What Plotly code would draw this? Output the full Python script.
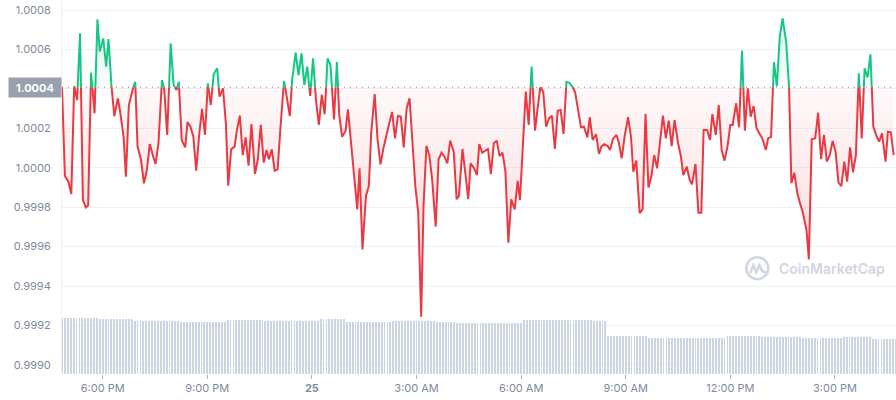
import pandas as pd
import plotly.graph_objects as go

start = pd.Timestamp("2023-06-24 16:50")

# price samples: minutes after start, USD price
minutes = [
    0, 5, 11, 16, 21, 26, 31, 36, 41, 45, 50, 56, 61, 65, 71, 76, 80, 85, 90, 96,
    100, 106, 110, 115, 121, 126, 130, 136, 141, 146, 151, 157, 161, 166, 172, 176, 181, 187, 192, 197,
    201, 206, 212, 216, 221, 226, 231, 236, 241, 246, 251, 256, 261, 267, 271, 277, 282, 286, 291, 297,
    301, 306, 311, 316, 321, 326, 332, 337, 342, 347, 352, 356, 361, 366, 371, 376, 382, 387, 392, 396,
    402, 407, 412, 417, 422, 427, 432, 437, 442, 447, 452, 457, 462, 468, 473, 477, 482, 488, 492, 497,
    503, 508, 512, 517, 523, 528, 532, 538, 543, 548, 553, 558, 563, 568, 573, 578, 583, 588, 593, 598,
    603, 608, 613, 618, 622, 627, 632, 637, 643, 648, 653, 658, 663, 668, 674, 679, 683, 689, 694, 699,
    703, 709, 714, 718, 723, 728, 733, 738, 743, 748, 753, 758, 763, 768, 773, 779, 784, 788, 793, 798,
    803, 808, 814, 818, 823, 828, 833, 838, 843, 848, 853, 858, 863, 868, 873, 878, 883, 888, 893, 898,
    904, 908, 913, 919, 924, 928, 933, 939, 943, 948, 954, 958, 963, 968, 974, 979, 983, 988, 994, 999,
    1004, 1009, 1014, 1019, 1024, 1029, 1034, 1039, 1044, 1049, 1054, 1060, 1065, 1069, 1075, 1080, 1084, 1090, 1095, 1100,
    1104, 1110, 1115, 1119, 1125, 1130, 1135, 1140, 1145, 1150, 1154, 1160, 1165, 1170, 1175, 1180, 1185, 1190, 1195, 1200,
    1205, 1211, 1215, 1220, 1225, 1230, 1235, 1240, 1246, 1251, 1255, 1260, 1265, 1270, 1275, 1281, 1285, 1290, 1296, 1301,
    1306, 1311, 1316, 1321, 1326, 1331, 1336, 1341, 1346, 1351, 1356, 1361, 1366, 1371, 1376, 1381, 1386, 1391, 1396, 1402,
    1406, 1411, 1417, 1421, 1426, 1431,
]
price = [
    1.000408, 0.999958, 0.999929, 0.999867, 1.000415, 1.000343, 1.000682, 0.999836, 0.999799, 0.999808,
    1.000482, 1.000276, 1.000753, 1.000589, 1.000656, 1.000513, 1.000653, 1.000420, 1.000262, 1.000352,
    1.000284, 1.000157, 0.999955, 1.000318, 1.000394, 1.000436, 1.000107, 1.000039, 0.999921, 0.999988,
    1.000120, 1.000056, 1.000019, 1.000124, 1.000445, 1.000394, 1.000166, 1.000631, 1.000420, 1.000394,
    1.000436, 1.000141, 1.000103, 1.000232, 1.000208, 1.000157, 0.999985, 1.000166, 1.000298, 1.000166,
    1.000428, 1.000318, 1.000475, 1.000504, 1.000360, 1.000403, 1.000225, 0.999909, 1.000093, 1.000107,
    1.000191, 1.000264, 1.000064, 1.000154, 1.000010, 1.000222, 0.999968, 1.000043, 1.000217, 1.000026,
    1.000090, 1.000043, 1.000093, 0.999985, 0.999992, 1.000208, 1.000440, 1.000360, 1.000262, 1.000445,
    1.000584, 1.000470, 1.000580, 1.000420, 1.000513, 1.000364, 1.000555, 1.000343, 1.000217, 1.000369,
    1.000271, 1.000555, 1.000521, 1.000245, 1.000536, 1.000267, 1.000157, 1.000188, 1.000296, 1.000141,
    0.999972, 0.999789, 0.999997, 0.999586, 0.999857, 0.999907, 1.000174, 1.000374, 1.000141, 1.000017,
    1.000098, 1.000166, 1.000225, 1.000283, 1.000149, 1.000262, 1.000259, 1.000103, 1.000301, 1.000352,
    1.000141, 0.999904, 0.999769, 0.999244, 0.999802, 1.000110, 1.000064, 0.999938, 0.999701, 1.000043,
    1.000076, 1.000056, 1.000022, 1.000137, 1.000081, 0.999840, 0.999857, 1.000095, 0.999972, 0.999841,
    1.000022, 0.999997, 0.999963, 1.000120, 1.000076, 1.000086, 1.000095, 0.999968, 1.000124, 1.000137,
    1.000059, 1.000076, 0.999980, 0.999620, 0.999840, 0.999789, 0.999933, 0.999836, 1.000144, 1.000386,
    1.000217, 1.000513, 1.000188, 1.000293, 1.000408, 1.000386, 1.000208, 1.000250, 1.000264, 1.000095,
    1.000289, 1.000293, 1.000171, 1.000436, 1.000431, 1.000414, 1.000381, 1.000293, 1.000205, 1.000208,
    1.000154, 1.000256, 1.000141, 1.000169, 1.000070, 1.000107, 1.000119, 1.000110, 1.000090, 1.000146,
    1.000166, 1.000129, 1.000048, 1.000157, 1.000256, 1.000157, 0.999980, 1.000036, 0.999769, 0.999789,
    1.000272, 0.999900, 0.999955, 1.000064, 0.999997, 1.000132, 1.000264, 1.000149, 1.000239, 1.000110,
    1.000242, 1.000124, 1.000056, 0.999963, 1.000005, 0.999938, 0.999916, 1.000019, 0.999772, 0.999772,
    1.000191, 1.000191, 1.000141, 1.000272, 1.000166, 1.000318, 1.000090, 1.000036, 1.000107, 1.000217,
    1.000217, 1.000327, 1.000205, 1.000594, 1.000188, 1.000403, 1.000259, 1.000313, 1.000200, 1.000174,
    1.000149, 1.000090, 1.000149, 1.000157, 1.000535, 1.000414, 1.000665, 1.000758, 1.000639, 1.000408,
    0.999921, 0.999975, 0.999873, 0.999819, 0.999769, 0.999684, 0.999535, 1.000144, 1.000149, 1.000279,
    1.000043, 1.000166, 1.000031, 1.000064, 1.000136, 1.000081, 0.999924, 0.999907, 1.000031, 0.999929,
    1.000103, 0.999977, 1.000064, 1.000479, 1.000149, 1.000504, 1.000458, 1.000575, 1.000208, 1.000157,
    1.000132, 1.000174, 1.000031, 1.000183, 1.000180, 1.000064,
]

# 5-minute volume bars (USD millions)
volume = [
    563, 563, 563, 563, 563, 563, 563, 563, 563, 563, 563, 563, 563,
    550, 550, 550, 550, 550, 550, 550, 550, 550, 550, 550, 550,
    533, 533, 533, 533, 533, 533, 533, 533, 533, 533, 533, 533, 533, 533, 533, 533,
    520, 520, 520, 520, 520, 520, 520, 520, 520, 520, 520, 520, 520, 520, 520, 520,
    545, 545, 545, 545, 545, 545, 545, 545, 545, 545, 545, 545, 545,
    530, 530, 530, 530, 530, 530, 530, 530, 530, 530, 530, 530, 530, 530, 530, 530, 530, 530, 530,
    550, 550, 550, 550, 550, 550, 550, 550, 550,
    517, 517, 517, 517, 517, 517, 517, 517, 517, 517, 517, 517, 517, 517, 517, 517,
    530, 530, 530, 530, 530, 530, 530, 530, 530, 530, 530, 530, 530, 530, 530,
    520, 520, 520, 520, 520, 520, 520,
    507, 507, 507, 507, 507, 507, 507, 507, 507, 507, 507,
    515, 515, 515, 515, 515, 515, 515, 515, 515, 515, 515, 515,
    540, 540, 540, 540, 540, 540, 540, 540, 540, 540, 540, 540,
    540, 540, 540, 540, 540, 540, 540, 540, 540, 540, 540, 540,
    532, 532, 532, 532, 532,
    380, 380, 380, 380, 380, 380, 380, 380, 380, 380, 380, 380, 380, 380,
    365, 365, 365, 365, 365, 365, 365, 365, 365, 365, 365, 365, 365, 365,
    365, 365, 365, 365, 365, 365, 365, 365, 365, 365, 365, 365, 365,
    385, 385, 385, 385, 385, 385, 385, 385, 385, 385, 385, 385,
    373, 373, 373, 373, 373, 373, 373, 373, 373, 373, 373, 373, 373, 373,
    360, 360, 360, 360, 360, 360, 360, 360, 360, 360, 360, 360, 360, 360,
    370, 370, 370, 370, 370, 370, 370, 370, 370, 370,
    355, 355, 355, 355, 355, 355, 355, 355, 355,
]

tick_times = ["2023-06-24 18:00", "2023-06-24 21:00", "2023-06-25 00:00", "2023-06-25 03:00",
              "2023-06-25 06:00", "2023-06-25 09:00", "2023-06-25 12:00", "2023-06-25 15:00"]
tick_labels = ["6:00 PM", "9:00 PM", "<b>25</b>", "3:00 AM", "6:00 AM", "9:00 AM", "12:00 PM", "3:00 PM"]
price_ticks = [0.9990, 0.9992, 0.9994, 0.9996, 0.9998, 1.0000, 1.0002, 1.0004, 1.0006, 1.0008]
# 1.0004 is shown by the open-price badge instead
price_labels = ["0.9990", "0.9992", "0.9994", "0.9996", "0.9998", "1.0000", "1.0002", "", "1.0006", "1.0008"]

RED = "#ea3943"
GREEN = "#16c784"
GREY = "#808a9d"
open_price = price[0]


def split_at_open(ms, ps, level):
    # add the points where the line crosses the open price
    xs, ys = [ms[0]], [ps[0]]
    for m0, p0, m1, p1 in zip(ms, ps, ms[1:], ps[1:]):
        if (p0 - level) * (p1 - level) < 0:
            f = (level - p0) / (p1 - p0)
            xs.append(m0 + f * (m1 - m0))
            ys.append(level)
        xs.append(m1)
        ys.append(p1)
    return xs, ys


xs, ys = split_at_open(minutes, price, open_price)
t = start + pd.to_timedelta(xs, unit="min")
vol_t = start + pd.to_timedelta([5 * i for i in range(len(volume))], unit="min")
end = start + pd.Timedelta(minutes=1435)

fig = go.Figure()
fig.add_trace(go.Bar(x=vol_t, y=volume, width=90000, marker=dict(color="#ccd3e1", line_width=0),
                     yaxis="y", hoverinfo="skip"))

base_x = [t[0], t[-1]]
fig.add_trace(go.Scatter(x=base_x, y=[open_price] * 2, mode="lines", line_width=0, yaxis="y2",
                         hoverinfo="skip"))
fig.add_trace(go.Scatter(
    x=t, y=[min(p, open_price) for p in ys], mode="lines", line_width=0, fill="tonexty", yaxis="y2",
    fillgradient=dict(type="vertical", start=0.9996, stop=open_price,
                      colorscale=[[0, "rgba(234,57,67,0.17)"], [1, "rgba(234,57,67,0.03)"]]),
    hoverinfo="skip"))
fig.add_trace(go.Scatter(x=base_x, y=[open_price] * 2, mode="lines", line_width=0, yaxis="y2",
                         hoverinfo="skip"))
fig.add_trace(go.Scatter(
    x=t, y=[max(p, open_price) for p in ys], mode="lines", line_width=0, fill="tonexty", yaxis="y2",
    fillgradient=dict(type="vertical", start=open_price, stop=1.00076,
                      colorscale=[[0, "rgba(22,199,132,0.02)"], [1, "rgba(22,199,132,0.18)"]]),
    hoverinfo="skip"))

fig.add_trace(go.Scatter(x=t, y=[p if p <= open_price else None for p in ys], mode="lines",
                         line=dict(color=RED, width=2), yaxis="y2", connectgaps=False))
fig.add_trace(go.Scatter(x=t, y=[p if p >= open_price else None for p in ys], mode="lines",
                         line=dict(color=GREEN, width=2), yaxis="y2", connectgaps=False))

fig.add_shape(type="line", xref="paper", x0=0, x1=1, yref="y2", y0=open_price, y1=open_price,
              line=dict(color=GREY, width=1, dash="1px,5px"), layer="below")

fig.add_annotation(text="<b>1.0004</b>", xref="paper", x=0, xanchor="right", yref="y2", y=open_price,
                   showarrow=False, bgcolor="#9aa0ad", font=dict(color="white", size=11),
                   width=46, height=13, borderpad=3)

# watermark
wm = "#d0d6e2"
fig.add_annotation(text="CoinMarketCap", xref="paper", yref="paper", x=0.857, y=0.283,
                   xanchor="left", yanchor="middle", showarrow=False,
                   font=dict(color=wm, size=14, weight=600))
fig.add_shape(type="circle", xref="paper", yref="paper", xsizemode="pixel", ysizemode="pixel",
              xanchor=0.8337, yanchor=0.283, x0=-11, x1=11, y0=-11, y1=11,
              line=dict(color=wm, width=2.5))
fig.add_shape(type="path", xref="paper", yref="paper", xsizemode="pixel", ysizemode="pixel",
              xanchor=0.8337, yanchor=0.283, path="M -7,-5 L -4,3 L -1,-4 L 2,3 L 5,-3 L 10,-5",
              line=dict(color=wm, width=2.5))

fig.update_layout(
    width=896, height=400,
    margin=dict(l=62, r=0, t=0, b=26),
    paper_bgcolor="white", plot_bgcolor="white",
    showlegend=False,
    font=dict(family="Inter", size=11, color=GREY),
    bargap=0,
    xaxis=dict(type="date", range=[start, end], tickvals=tick_times, ticktext=tick_labels,
               ticks="outside", ticklen=4, tickcolor="#a6b0c3", showgrid=False, showline=False,
               zeroline=False),
    yaxis=dict(range=[0, 3740], visible=False, fixedrange=True),
    yaxis2=dict(overlaying="y", side="left", anchor="x", range=[0.9989537, 1.0008507],
                tickvals=price_ticks, ticktext=price_labels, gridcolor="#eff2f5", showline=True,
                linecolor="#eff2f5", zeroline=False, ticklabelstandoff=8),
)

fig.write_html("out.html", config={"displayModeBar": False},
               post_script="document.body.style.margin = '0px';")
